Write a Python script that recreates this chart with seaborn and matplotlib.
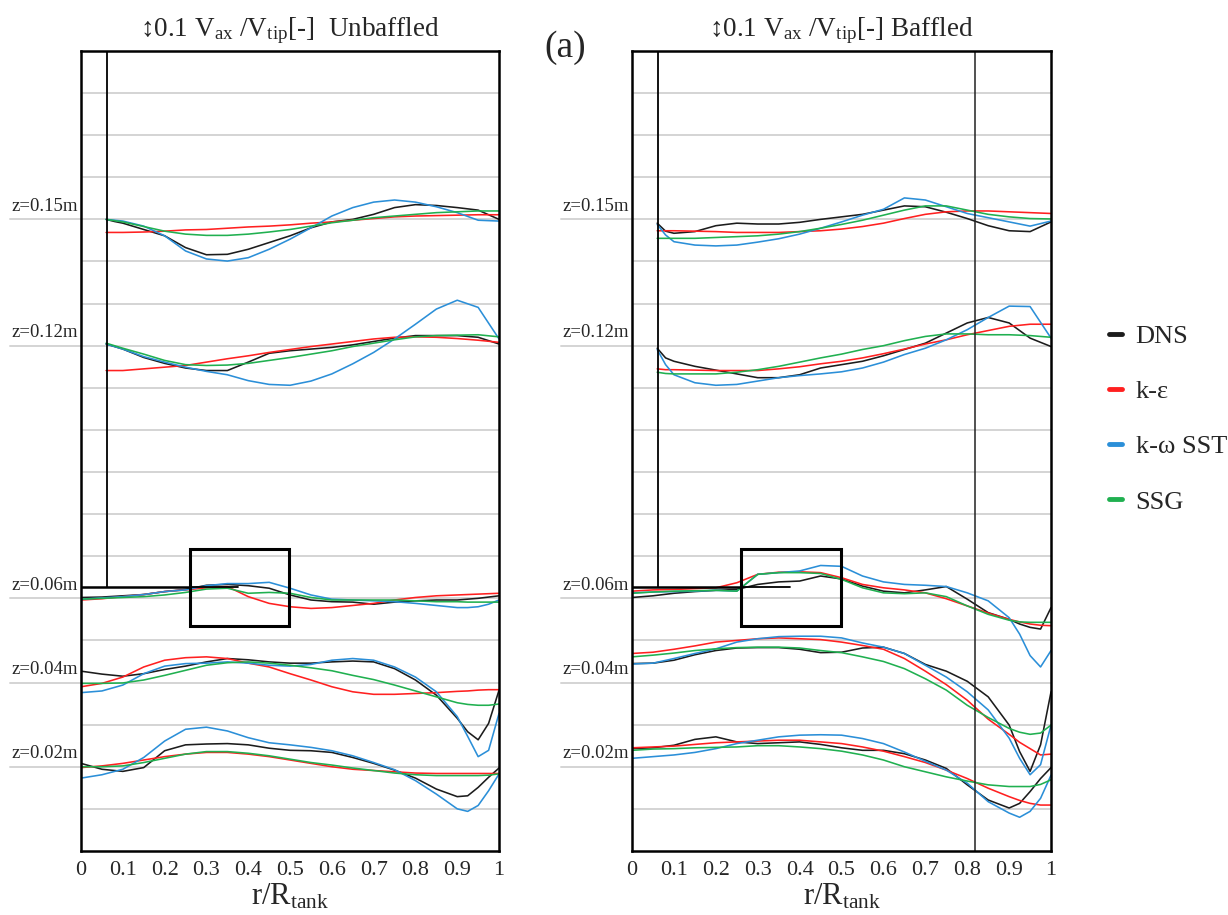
import numpy as np
import pandas as pd
import matplotlib
matplotlib.use("Agg")
import matplotlib.pyplot as plt
from matplotlib.patches import Rectangle
import seaborn as sns

# radial sample positions (r/R_tank)
R_UPPER = [0.06, 0.08, 0.1, 0.15, 0.2, 0.25, 0.3, 0.35, 0.4, 0.45, 0.5,
           0.55, 0.6, 0.65, 0.7, 0.75, 0.8, 0.85, 0.9, 0.95, 1.0]
R_LOWER = [0.0, 0.05, 0.1, 0.15, 0.2, 0.25, 0.3, 0.35, 0.4, 0.45, 0.5, 0.55,
           0.6, 0.65, 0.7, 0.75, 0.8, 0.85, 0.9, 0.925, 0.95, 0.975, 1.0]

MODELS = ["DNS", "k-ε", "k-ω SST", "SSG"]
COLORS = ["#1c1c1c", "#ff2020", "#2b8fd8", "#20b050"]
LEVELS = [0.15, 0.12, 0.06, 0.04, 0.02]

# Vax/Vtip, unbaffled tank
UNB_015_DNS = [0.0, -0.005, -0.009, -0.024, -0.039, -0.067, -0.084, -0.083, -0.071, -0.055, -0.039,
               -0.020, -0.006, 0.0, 0.012, 0.028, 0.035, 0.033, 0.028, 0.022, 0.0]
UNB_015_KE = [-0.031, -0.031, -0.031, -0.030, -0.028, -0.025, -0.024, -0.021, -0.018, -0.016, -0.013,
              -0.009, -0.006, -0.002, 0.002, 0.006, 0.008, 0.009, 0.010, 0.011, 0.011]
UNB_015_SST = [0.0, -0.002, -0.004, -0.016, -0.039, -0.075, -0.094, -0.099, -0.091, -0.071, -0.047,
               -0.020, 0.008, 0.028, 0.041, 0.046, 0.041, 0.030, 0.016, -0.002, -0.004]
UNB_015_SSG = [0.0, -0.003, -0.006, -0.017, -0.028, -0.035, -0.038, -0.038, -0.035, -0.030, -0.024,
               -0.016, -0.008, -0.002, 0.004, 0.008, 0.012, 0.016, 0.018, 0.020, 0.020]

UNB_012_DNS = [0.004, -0.002, -0.008, -0.028, -0.042, -0.053, -0.059, -0.059, -0.039, -0.018, -0.012,
               -0.008, -0.004, 0.002, 0.010, 0.018, 0.024, 0.024, 0.024, 0.020, 0.004]
UNB_012_KE = [-0.059, -0.059, -0.059, -0.055, -0.051, -0.047, -0.039, -0.031, -0.024, -0.016, -0.009,
              -0.002, 0.004, 0.010, 0.016, 0.020, 0.021, 0.020, 0.017, 0.013, 0.008]
UNB_012_SST = [0.004, -0.002, -0.008, -0.026, -0.039, -0.051, -0.061, -0.069, -0.083, -0.092, -0.094,
               -0.084, -0.067, -0.043, -0.016, 0.016, 0.051, 0.087, 0.108, 0.091, 0.016]
UNB_012_SSG = [0.006, 0.0, -0.006, -0.020, -0.035, -0.045, -0.047, -0.046, -0.042, -0.035, -0.028,
               -0.020, -0.012, -0.002, 0.006, 0.014, 0.021, 0.024, 0.025, 0.026, 0.021]

UNB_006_DNS = [0.002, 0.003, 0.006, 0.009, 0.016, 0.021, 0.031, 0.033, 0.030, 0.024, 0.008, -0.004,
               -0.008, -0.009, -0.014, -0.009, -0.006, -0.004, -0.004, -0.002, 0.0, 0.003, 0.006]
UNB_006_KE = [-0.004, -0.001, 0.004, 0.009, 0.016, 0.020, 0.025, 0.028, 0.004, -0.012, -0.020, -0.024,
              -0.022, -0.017, -0.012, -0.004, 0.002, 0.006, 0.008, 0.009, 0.010, 0.011, 0.012]
UNB_006_SST = [-0.002, 0.001, 0.004, 0.009, 0.016, 0.020, 0.030, 0.035, 0.035, 0.038, 0.024, 0.008,
               -0.002, -0.004, -0.006, -0.008, -0.012, -0.017, -0.022, -0.022, -0.020, -0.014, -0.004]
UNB_006_SSG = [-0.002, 0.0, 0.002, 0.004, 0.008, 0.014, 0.022, 0.024, 0.012, 0.014, 0.012, 0.002,
               -0.004, -0.004, -0.004, -0.004, -0.006, -0.008, -0.008, -0.009, -0.009, -0.009, -0.009]

UNB_004_DNS = [0.027, 0.020, 0.015, 0.021, 0.031, 0.039, 0.049, 0.057, 0.054, 0.049, 0.046, 0.046,
               0.049, 0.051, 0.049, 0.033, 0.006, -0.030, -0.085, -0.117, -0.136, -0.097, -0.018]
UNB_004_KE = [-0.010, -0.002, 0.013, 0.037, 0.053, 0.059, 0.061, 0.057, 0.046, 0.037, 0.021, 0.006,
              -0.010, -0.022, -0.028, -0.028, -0.026, -0.024, -0.021, -0.020, -0.018, -0.017, -0.017]
UNB_004_SST = [-0.024, -0.020, -0.006, 0.021, 0.039, 0.045, 0.046, 0.049, 0.046, 0.041, 0.039, 0.043,
               0.053, 0.057, 0.053, 0.037, 0.013, -0.022, -0.081, -0.128, -0.176, -0.161, -0.073]
UNB_004_SSG = [-0.002, -0.002, -0.001, 0.006, 0.017, 0.029, 0.041, 0.047, 0.049, 0.046, 0.041, 0.035,
               0.028, 0.017, 0.007, -0.006, -0.020, -0.034, -0.048, -0.052, -0.054, -0.054, -0.051]

UNB_002_DNS = [0.008, -0.006, -0.011, -0.002, 0.038, 0.052, 0.054, 0.055, 0.052, 0.044, 0.039, 0.038,
               0.034, 0.022, 0.008, -0.008, -0.027, -0.053, -0.071, -0.069, -0.049, -0.025, -0.003]
UNB_002_KE = [-0.002, 0.002, 0.008, 0.016, 0.024, 0.030, 0.034, 0.034, 0.030, 0.024, 0.016, 0.008,
              0.0, -0.006, -0.009, -0.012, -0.015, -0.016, -0.016, -0.016, -0.016, -0.016, -0.016]
UNB_002_SST = [-0.027, -0.019, -0.006, 0.022, 0.061, 0.089, 0.094, 0.085, 0.069, 0.057, 0.052, 0.046,
               0.038, 0.026, 0.010, -0.007, -0.033, -0.065, -0.100, -0.106, -0.092, -0.057, -0.017]
UNB_002_SSG = [0.0, 0.0, 0.002, 0.010, 0.020, 0.030, 0.036, 0.036, 0.032, 0.026, 0.018, 0.010,
               0.004, -0.003, -0.009, -0.015, -0.019, -0.021, -0.021, -0.021, -0.021, -0.020, -0.017]

# Vax/Vtip, baffled tank
BAF_015_DNS = [-0.009, -0.028, -0.033, -0.029, -0.015, -0.009, -0.011, -0.011, -0.007, 0.0, 0.006,
               0.012, 0.022, 0.032, 0.030, 0.017, 0.002, -0.015, -0.027, -0.029, -0.006]
BAF_015_KE = [-0.027, -0.027, -0.027, -0.028, -0.029, -0.031, -0.031, -0.031, -0.029, -0.027, -0.023,
              -0.017, -0.009, 0.002, 0.012, 0.018, 0.020, 0.020, 0.018, 0.016, 0.014]
BAF_015_SST = [-0.012, -0.037, -0.053, -0.061, -0.063, -0.061, -0.054, -0.046, -0.035, -0.021, -0.006,
               0.010, 0.024, 0.051, 0.046, 0.030, 0.014, 0.004, -0.006, -0.016, -0.004]
BAF_015_SSG = [-0.045, -0.045, -0.045, -0.045, -0.043, -0.041, -0.039, -0.035, -0.029, -0.021, -0.012,
               -0.002, 0.010, 0.022, 0.032, 0.032, 0.022, 0.012, 0.006, 0.002, 0.001]

BAF_012_DNS = [-0.006, -0.029, -0.037, -0.049, -0.058, -0.067, -0.076, -0.076, -0.069, -0.053, -0.045,
               -0.037, -0.024, -0.009, 0.006, 0.030, 0.054, 0.067, 0.054, 0.018, -0.002]
BAF_012_KE = [-0.055, -0.057, -0.057, -0.058, -0.059, -0.059, -0.059, -0.055, -0.050, -0.043, -0.037,
              -0.029, -0.019, -0.008, 0.004, 0.014, 0.026, 0.036, 0.046, 0.051, 0.051]
BAF_012_SST = [-0.009, -0.045, -0.069, -0.088, -0.094, -0.092, -0.084, -0.076, -0.071, -0.067, -0.062,
               -0.053, -0.039, -0.021, -0.006, 0.014, 0.038, 0.067, 0.094, 0.093, 0.018]
BAF_012_SSG = [-0.063, -0.066, -0.067, -0.067, -0.067, -0.063, -0.057, -0.049, -0.039, -0.029, -0.020,
               -0.009, 0.0, 0.012, 0.022, 0.028, 0.028, 0.026, 0.026, 0.024, 0.020]

BAF_006_DNS = [0.002, 0.006, 0.012, 0.016, 0.019, 0.021, 0.033, 0.039, 0.041, 0.053, 0.046, 0.029,
               0.017, 0.013, 0.020, 0.028, -0.002, -0.034, -0.050, -0.061, -0.069, -0.073, -0.022]
BAF_006_KE = [0.017, 0.020, 0.021, 0.023, 0.025, 0.037, 0.057, 0.062, 0.063, 0.061, 0.049, 0.033,
              0.025, 0.020, 0.013, -0.001, -0.018, -0.035, -0.050, -0.056, -0.061, -0.064, -0.065]
BAF_006_SST = [0.013, 0.015, 0.016, 0.017, 0.019, 0.017, 0.057, 0.061, 0.065, 0.078, 0.076, 0.053,
               0.039, 0.033, 0.031, 0.028, 0.013, -0.006, -0.046, -0.085, -0.136, -0.163, -0.124]
BAF_006_SSG = [0.012, 0.015, 0.017, 0.018, 0.019, 0.017, 0.057, 0.061, 0.061, 0.059, 0.045, 0.025,
               0.013, 0.011, 0.013, 0.004, -0.018, -0.038, -0.052, -0.056, -0.057, -0.057, -0.057]

BAF_004_DNS = [0.045, 0.046, 0.053, 0.066, 0.076, 0.082, 0.083, 0.083, 0.079, 0.071, 0.072, 0.082,
               0.084, 0.069, 0.043, 0.027, 0.003, -0.034, -0.101, -0.164, -0.211, -0.148, -0.022]
BAF_004_KE = [0.069, 0.072, 0.079, 0.087, 0.096, 0.100, 0.104, 0.106, 0.104, 0.102, 0.096, 0.088,
              0.079, 0.057, 0.027, -0.005, -0.042, -0.087, -0.123, -0.142, -0.157, -0.172, -0.170]
BAF_004_SST = [0.044, 0.046, 0.057, 0.069, 0.080, 0.096, 0.104, 0.109, 0.110, 0.110, 0.106, 0.094,
               0.084, 0.069, 0.041, 0.013, -0.022, -0.065, -0.132, -0.180, -0.219, -0.195, -0.101]
BAF_004_SSG = [0.061, 0.065, 0.070, 0.076, 0.080, 0.083, 0.084, 0.084, 0.082, 0.076, 0.071, 0.061,
               0.050, 0.033, 0.009, -0.018, -0.054, -0.083, -0.109, -0.118, -0.123, -0.120, -0.101]

BAF_002_DNS = [0.043, 0.045, 0.051, 0.065, 0.071, 0.059, 0.055, 0.057, 0.059, 0.053, 0.045, 0.039,
               0.039, 0.031, 0.016, -0.004, -0.043, -0.079, -0.098, -0.087, -0.059, -0.028, -0.002]
BAF_002_KE = [0.045, 0.047, 0.049, 0.053, 0.057, 0.059, 0.061, 0.063, 0.063, 0.059, 0.055, 0.047,
              0.037, 0.024, 0.010, -0.008, -0.028, -0.051, -0.071, -0.080, -0.087, -0.091, -0.091]
BAF_002_SST = [0.020, 0.024, 0.028, 0.034, 0.043, 0.055, 0.063, 0.071, 0.075, 0.076, 0.075, 0.067,
               0.055, 0.035, 0.013, -0.008, -0.039, -0.083, -0.110, -0.120, -0.106, -0.075, -0.020]
BAF_002_SSG = [0.039, 0.042, 0.043, 0.045, 0.046, 0.047, 0.050, 0.050, 0.047, 0.043, 0.037, 0.028,
               0.016, 0.0, -0.012, -0.024, -0.034, -0.043, -0.047, -0.047, -0.047, -0.042, -0.031]

SCALE = 0.1        # 0.1 Vax/Vtip is drawn as 0.01 m (one grid step)
SHAFT_R = 0.062
DISK_Z = 0.0627
DISK_R = 0.376
BAFFLE_R = 0.818
BOX_R = (0.261, 0.498)
BOX_Z = (0.0534, 0.0718)


def build_frame(profiles):
    rows = []
    for z, r_vals, curves in profiles:
        for model, vals in zip(MODELS, curves):
            for r, v in zip(r_vals, vals):
                rows.append({"r": r, "z": z + SCALE * v, "model": model, "level": z})
    return pd.DataFrame(rows)


def draw_panel(ax, df, title, baffle=False, legend=False):
    for z in np.arange(0.01, 0.185, 0.01):
        ax.axhline(z, color="#d4d4d4", lw=1.4, zorder=0)
    for z in LEVELS:
        ax.plot([-0.17, 0], [z, z], color="#d4d4d4", lw=1.4, clip_on=False, zorder=0)
        ax.text(-0.167, z + 0.0011, f"z={z:.2f}m", fontsize=13.5, ha="left", va="bottom")

    sns.lineplot(data=df, x="r", y="z", hue="model", units="level", estimator=None,
                 sort=False, hue_order=MODELS, palette=COLORS, lw=1.15,
                 legend=legend, ax=ax)

    # shaft, impeller disk and zoom box
    ax.plot([SHAFT_R, SHAFT_R], [DISK_Z, 0.19], color="black", lw=1.3)
    ax.plot([0, BOX_R[0]], [DISK_Z, DISK_Z], color="black", lw=1.8)
    ax.plot([BOX_R[0], DISK_R], [DISK_Z, DISK_Z], color="black", lw=1.3)
    ax.add_patch(Rectangle((BOX_R[0], BOX_Z[0]), BOX_R[1] - BOX_R[0], BOX_Z[1] - BOX_Z[0],
                           fill=False, ec="black", lw=2.2, zorder=5))
    if baffle:
        ax.axvline(BAFFLE_R, color="#222222", lw=1.1)

    ax.set_xlim(0, 1)
    ax.set_ylim(0, 0.19)
    ax.set_yticks([])
    ax.set_ylabel("")
    ticks = np.round(np.arange(0, 1.01, 0.1), 1)
    ax.set_xticks(ticks)
    ax.set_xticklabels(["0"] + [f"{t:.1f}" for t in ticks[1:-1]] + ["1"])
    ax.tick_params(axis="x", length=0, pad=7, labelsize=16)
    ax.set_xlabel(r"$\mathrm{r/R_{tank}}$", fontsize=22, labelpad=2)
    for sp in ax.spines.values():
        sp.set_visible(True)
        sp.set_color("black")
        sp.set_linewidth(1.8)
    ax.set_title(title, fontsize=19.5, pad=11)


def main():
    sns.set_style("white")
    plt.rcParams["font.family"] = ["Liberation Serif", "DejaVu Serif"]
    plt.rcParams["mathtext.fontset"] = "custom"
    plt.rcParams["mathtext.rm"] = "Liberation Serif"
    plt.rcParams["mathtext.it"] = "Liberation Serif:italic"

    unbaffled = build_frame([
        (0.15, R_UPPER, [UNB_015_DNS, UNB_015_KE, UNB_015_SST, UNB_015_SSG]),
        (0.12, R_UPPER, [UNB_012_DNS, UNB_012_KE, UNB_012_SST, UNB_012_SSG]),
        (0.06, R_LOWER, [UNB_006_DNS, UNB_006_KE, UNB_006_SST, UNB_006_SSG]),
        (0.04, R_LOWER, [UNB_004_DNS, UNB_004_KE, UNB_004_SST, UNB_004_SSG]),
        (0.02, R_LOWER, [UNB_002_DNS, UNB_002_KE, UNB_002_SST, UNB_002_SSG]),
    ])
    baffled = build_frame([
        (0.15, R_UPPER, [BAF_015_DNS, BAF_015_KE, BAF_015_SST, BAF_015_SSG]),
        (0.12, R_UPPER, [BAF_012_DNS, BAF_012_KE, BAF_012_SST, BAF_012_SSG]),
        (0.06, R_LOWER, [BAF_006_DNS, BAF_006_KE, BAF_006_SST, BAF_006_SSG]),
        (0.04, R_LOWER, [BAF_004_DNS, BAF_004_KE, BAF_004_SST, BAF_004_SSG]),
        (0.02, R_LOWER, [BAF_002_DNS, BAF_002_KE, BAF_002_SST, BAF_002_SSG]),
    ])

    fig = plt.figure(figsize=(12.28, 9.15), dpi=100)
    ax_l = fig.add_axes([0.066, 0.070, 0.3404, 0.8743])
    ax_r = fig.add_axes([0.5147, 0.070, 0.3412, 0.8743])

    draw_panel(ax_l, unbaffled,
               r"↕0.1 $\mathrm{V_{ax}}$ /$\mathrm{V_{tip}}$[-]  Unbaffled")
    draw_panel(ax_r, baffled,
               r"↕0.1 $\mathrm{V_{ax}}$ /$\mathrm{V_{tip}}$[-] Baffled",
               baffle=True, legend=True)

    leg = ax_r.get_legend()
    handles = leg.legend_handles
    labels = [t.get_text() for t in leg.get_texts()]
    leg.remove()
    fig_leg = fig.legend(handles, labels, loc="center left", bbox_to_anchor=(0.884, 0.542),
                         frameon=False, fontsize=19, handlelength=0.5,
                         handletextpad=0.5, labelspacing=1.2)
    for line in fig_leg.get_lines():
        line.set_linewidth(3.5)

    fig.text(0.460, 0.948, "(a)", fontsize=27, ha="center", va="center")

    fig.savefig("out.png", dpi=100)


if __name__ == "__main__":
    main()
